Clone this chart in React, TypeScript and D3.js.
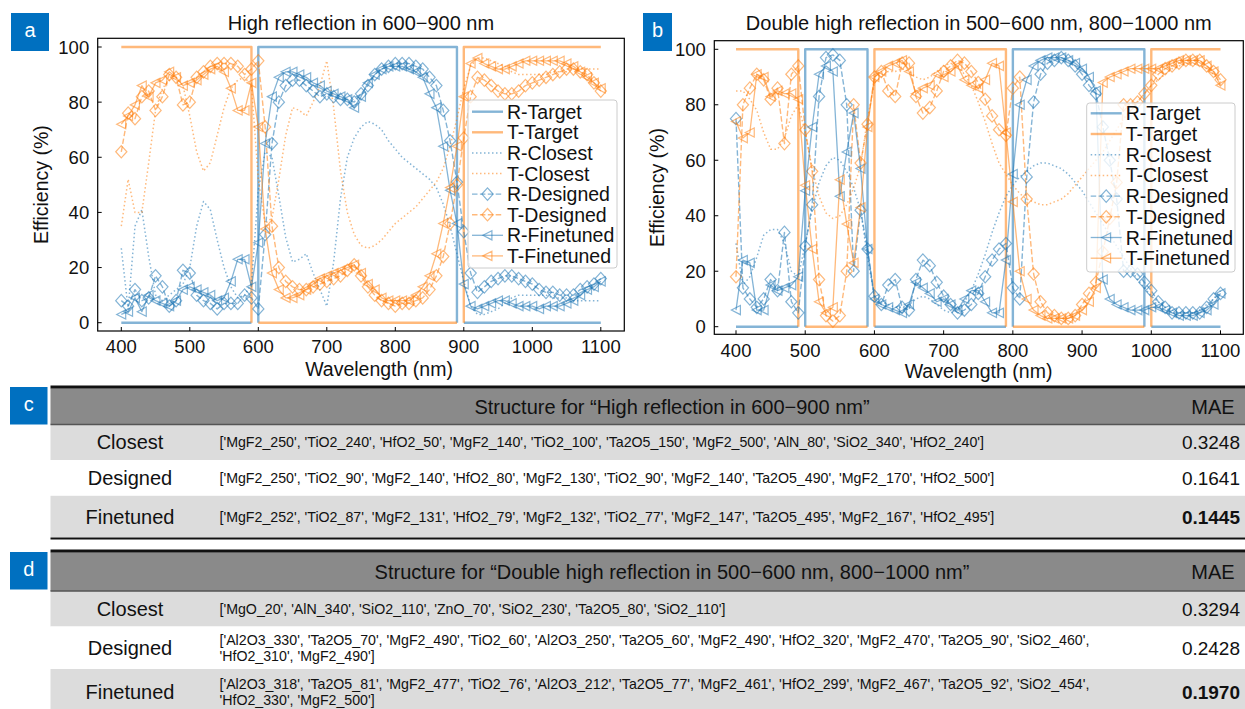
import React from 'react';
import * as d3 from 'd3';

// ---------- DATA ----------
const WAVELENGTHS = [
  400, 410, 420, 430, 440, 450, 460, 470, 480, 490,
  500, 510, 520, 530, 540, 550, 560, 570, 580, 590,
  600, 610, 620, 630, 640, 650, 660, 670, 680, 690,
  700, 710, 720, 730, 740, 750, 760, 770, 780, 790,
  800, 810, 820, 830, 840, 850, 860, 870, 880, 890,
  900, 910, 920, 930, 940, 950, 960, 970, 980, 990,
  1000, 1010, 1020, 1030, 1040, 1050, 1060, 1070, 1080, 1090,
  1100,
];
const X_TICKS = [400, 500, 600, 700, 800, 900, 1000, 1100];
const Y_TICKS = [0, 20, 40, 60, 80, 100];

// Panel a : High reflection in 600-900 nm
const A_R_TARGET_X = [400, 590, null, 600, 600, 890, 890, null, 900, 1100];
const A_R_TARGET_Y = [0, 0, null, 0, 100, 100, 0, null, 0, 0];
const A_T_TARGET_X = [400, 590, 590, null, 600, 890, null, 900, 900, 1100];
const A_T_TARGET_Y = [100, 100, 0, null, 0, 0, null, 0, 100, 100];
const A_R_CLOSEST = [
  27, 5, 35, 41, 24, 10, 8, 10, 12, 14,
  20, 35, 44, 41, 30, 20, 13, 9, 10, 14,
  48, 62, 60, 46, 31, 22, 23, 25, 18, 12,
  6, 22, 45, 60, 67, 71, 73, 72, 70, 66,
  63, 60, 58, 56, 54, 52, 49, 43, 35, 25,
  15, 6, 3, 3, 4, 5, 7, 9, 10, 10,
  10, 10, 10, 9, 9, 9, 8, 8, 8, 8,
  8,
];
const A_T_CLOSEST = [
  35, 52, 40, 40, 58, 77, 85, 88, 89, 86,
  75, 62, 55, 58, 68, 78, 85, 88, 89, 86,
  52, 36, 38, 52, 68, 78, 77, 75, 80, 86,
  95, 78, 55, 40, 32, 28, 27, 28, 30, 33,
  36, 38, 40, 42, 45, 48, 51, 56, 64, 74,
  85, 93, 96, 96, 95, 94, 93, 91, 90, 90,
  90, 90, 90, 91, 91, 91, 92, 92, 92, 92,
  92,
];
const A_R_DESIGNED = [
  8, 6, 12, 8, 9, 17, 13, 6, 8, 19,
  18, 10, 8, 7, 5, 7, 7, 7, 10, 9,
  5, 32, 65, 80, 86, 88, 88, 86, 84, 82,
  83, 82, 81, 81, 80, 83, 86, 90, 92, 93,
  94, 94, 94, 93, 92, 89, 86, 77, 66, 51,
  33, 18, 11, 13, 15, 16, 17, 17, 16, 15,
  14, 12, 11, 11, 10, 10, 10, 12, 13, 14,
  16,
];
const A_T_DESIGNED = [
  62, 76, 74, 82, 84, 77, 82, 90, 89, 79,
  80, 89, 91, 93, 94, 94, 94, 93, 90, 92,
  95, 71, 35, 20, 15, 13, 12, 12, 13, 14,
  15, 16, 17, 19, 21, 17, 13, 10, 8, 7,
  6, 7, 7, 8, 9, 12, 17, 24, 36, 50,
  67, 82, 89, 88, 86, 84, 83, 83, 84, 86,
  87, 88, 89, 90, 91, 92, 92, 91, 90, 87,
  84,
];
const A_R_FINETUNED = [
  3, 4, 9, 4, 10, 8, 7, 6, 8, 12,
  13, 12, 11, 10, 8, 9, 15, 23, 23, 13,
  29, 65, 82, 89, 91, 91, 90, 89, 87, 86,
  84, 83, 82, 81, 78, 82, 87, 90, 92, 93,
  93, 93, 92, 91, 89, 83, 78, 64, 48, 36,
  14, 6, 5, 6, 7, 8, 8, 7, 6, 6,
  6, 5, 6, 6, 6, 7, 8, 10, 12, 13,
  15,
];
const A_T_FINETUNED = [
  72, 75, 79, 86, 82, 87, 88, 91, 89, 86,
  87, 88, 90, 92, 93, 91, 85, 77, 77, 87,
  71, 34, 18, 12, 9, 9, 10, 12, 14, 16,
  17, 18, 19, 20, 21, 18, 14, 12, 9, 8,
  8, 8, 8, 10, 13, 17, 25, 36, 49, 64,
  82, 94, 96, 94, 93, 92, 92, 93, 94, 95,
  95, 95, 95, 95, 95, 94, 93, 91, 89, 87,
  85,
];

// Panel b : Double high reflection in 500-600 nm, 800-1000 nm
const B_R_TARGET_X = [400, 490, null, 500, 500, 590, 590, null, 600, 790, null, 800, 800, 990, 990, null, 1000, 1100];
const B_R_TARGET_Y = [0, 0, null, 0, 100, 100, 0, null, 0, 0, null, 0, 100, 100, 0, null, 0, 0];
const B_T_TARGET_X = [400, 490, 490, null, 500, 590, null, 600, 600, 790, 790, null, 800, 990, null, 1000, 1000, 1100];
const B_T_TARGET_Y = [100, 100, 0, null, 0, 0, null, 0, 100, 100, 0, null, 0, 0, null, 0, 100, 100];
const B_R_CLOSEST = [
  30, 15, 18, 25, 33, 35, 35, 30, 20, 18,
  30, 42, 52, 58, 61, 60, 56, 50, 42, 25,
  11, 9, 8, 7, 7, 8, 10, 11, 10, 8,
  6, 5, 6, 9, 13, 19, 26, 34, 41, 47,
  51, 54, 56, 58, 59, 59, 58, 57, 55, 52,
  49, 45, 41, 37, 33, 29, 25, 21, 17, 14,
  11, 9, 7, 6, 5, 5, 5, 6, 8, 10,
  13,
];
const B_T_CLOSEST = [
  85, 85, 82, 78, 70, 64, 64, 68, 76, 80,
  70, 57, 47, 41, 39, 40, 44, 50, 58, 75,
  88, 90, 92, 92, 93, 92, 90, 89, 90, 92,
  94, 95, 94, 91, 87, 81, 74, 66, 59, 55,
  51, 48, 46, 45, 44, 44, 45, 46, 48, 51,
  54, 57, 60, 63, 67, 71, 75, 78, 81, 84,
  87, 89, 91, 93, 94, 95, 95, 94, 93, 91,
  88,
];
const B_R_DESIGNED = [
  75, 14, 10, 7, 10, 17, 13, 34, 9, 5,
  29, 44, 83, 97, 98, 96, 80, 20, 42, 28,
  11, 8, 15, 17, 7, 6, 17, 24, 22, 16,
  11, 8, 5, 6, 8, 12, 18, 24, 28, 30,
  14, 10, 54, 81, 91, 95, 96, 97, 96, 94,
  91, 87, 84, 72, 60, 46, 20, 20, 19, 16,
  13, 9, 7, 5, 5, 5, 5, 5, 7, 10,
  12,
];
const B_T_DESIGNED = [
  18, 80, 86, 91, 89, 82, 86, 66, 91, 94,
  71, 56, 17, 4, 2, 4, 20, 80, 59, 73,
  90, 92, 85, 83, 95, 95, 83, 77, 79, 85,
  92, 94, 96, 95, 92, 88, 82, 76, 71, 69,
  86, 90, 46, 19, 9, 5, 4, 3, 3, 4,
  8, 12, 16, 27, 39, 52, 80, 80, 81, 84,
  87, 91, 93, 94, 95, 96, 96, 96, 94, 92,
  89,
];
const B_R_FINETUNED = [
  6, 24, 23, 6, 6, 15, 13, 14, 15, 18,
  49, 72, 91, 94, 92, 47, 63, 77, 57, 28,
  10, 8, 7, 6, 5, 8, 16, 14, 12, 9,
  10, 8, 6, 10, 13, 13, 9, 5, 5, 24,
  55, 80, 89, 94, 96, 97, 97, 97, 96, 95,
  93, 90, 85, 17, 10, 8, 7, 6, 6, 6,
  7, 7, 6, 5, 4, 4, 4, 5, 6, 8,
  12,
];
const B_T_FINETUNED = [
  74, 68, 70, 91, 90, 83, 85, 84, 84, 82,
  51, 28, 9, 5, 7, 53, 37, 23, 43, 72,
  90, 92, 94, 95, 96, 92, 84, 86, 87, 91,
  90, 92, 94, 89, 87, 86, 89, 95, 94, 70,
  45, 20, 10, 6, 4, 3, 3, 3, 3, 4,
  6, 9, 14, 88, 90, 91, 92, 93, 93, 93,
  93, 93, 94, 95, 96, 96, 96, 96, 94, 92,
  87,
];

const SERIES_NAMES = ['R-Target', 'T-Target', 'R-Closest', 'T-Closest', 'R-Designed', 'T-Designed', 'R-Finetuned', 'T-Finetuned'];
const TITLE_A = 'High reflection in 600\u2212900 nm';
const TITLE_B = 'Double high reflection in 500\u2212600 nm, 800\u22121000 nm';
const X_LABEL = 'Wavelength (nm)';
const Y_LABEL = 'Efficiency (%)';

// Tables
const ROW_NAMES = ['Closest', 'Designed', 'Finetuned'];
const TABLE_C_TITLE = 'Structure for \u201cHigh reflection in 600\u2212900 nm\u201d';
const TABLE_C_STRUCTS = [
  ["['MgF2_250', 'TiO2_240', 'HfO2_50', 'MgF2_140', 'TiO2_100', 'Ta2O5_150', 'MgF2_500', 'AlN_80', 'SiO2_340', 'HfO2_240']"],
  ["['MgF2_250', 'TiO2_90', 'MgF2_140', 'HfO2_80', 'MgF2_130', 'TiO2_90', 'MgF2_140', 'Ta2O5_490', 'MgF2_170', 'HfO2_500']"],
  ["['MgF2_252', 'TiO2_87', 'MgF2_131', 'HfO2_79', 'MgF2_132', 'TiO2_77', 'MgF2_147', 'Ta2O5_495', 'MgF2_167', 'HfO2_495']"],
];
const TABLE_C_MAE = ['0.3248', '0.1641', '0.1445'];
const TABLE_D_TITLE = 'Structure for \u201cDouble high reflection in 500\u2212600 nm, 800\u22121000 nm\u201d';
const TABLE_D_STRUCTS = [
  ["['MgO_20', 'AlN_340', 'SiO2_110', 'ZnO_70', 'SiO2_230', 'Ta2O5_80', 'SiO2_110']"],
  ["['Al2O3_330', 'Ta2O5_70', 'MgF2_490', 'TiO2_60', 'Al2O3_250', 'Ta2O5_60', 'MgF2_490', 'HfO2_320', 'MgF2_470', 'Ta2O5_90', 'SiO2_460',",
   "'HfO2_310', 'MgF2_490']"],
  ["['Al2O3_318', 'Ta2O5_81', 'MgF2_477', 'TiO2_76', 'Al2O3_212', 'Ta2O5_77', 'MgF2_461', 'HfO2_299', 'MgF2_467', 'Ta2O5_92', 'SiO2_454',",
   "'HfO2_330', 'MgF2_500']"],
];
const TABLE_D_MAE = ['0.3294', '0.2428', '0.1970'];
const MAE_HEADER = 'MAE';

// ---------- STYLE / LAYOUT ----------
const FONT = '"Liberation Sans", Arial, Helvetica, sans-serif';
const BLUE = '#1f77b4';
const ORANGE = '#ff7f0e';
const LABEL_BLUE = '#0070c0';
const ALPHA = 0.55;

type Style = { color: string; width: number; dash: string | null; marker: 'diamond' | 'tri' | null };
const STYLES: Style[] = [
  { color: BLUE, width: 2.4, dash: null, marker: null },
  { color: ORANGE, width: 2.4, dash: null, marker: null },
  { color: BLUE, width: 1.5, dash: '1.5,2.5', marker: null },
  { color: ORANGE, width: 1.5, dash: '1.5,2.5', marker: null },
  { color: BLUE, width: 1.4, dash: '5.5,2.4', marker: 'diamond' },
  { color: ORANGE, width: 1.4, dash: '5.5,2.4', marker: 'diamond' },
  { color: BLUE, width: 1.3, dash: null, marker: 'tri' },
  { color: ORANGE, width: 1.3, dash: null, marker: 'tri' },
];

type Pt = [number, number] | null;

function pairs(xs: (number | null)[], ys: (number | null)[]): Pt[] {
  return xs.map((xv, i) => (xv === null || ys[i] === null ? null : [xv, ys[i] as number]));
}
function grid(vals: number[]): Pt[] {
  return vals.map((v, i) => [WAVELENGTHS[i], v]);
}

const PANEL_A = {
  spine: { l: 97.7, r: 624.3, t: 38.3, b: 331 },
  xr: [121.3, 600.8], yr: [322.7, 47],
  title: TITLE_A, titleY: 30,
  tickOffset: 22.3,
  xLabelX: 379, xLabelY: 375.5,
  yLabelX: 48,
  legend: { x: 468, y: 100, w: 149, h: 168, first: 111.7, step: 20.6 },
  series: [
    pairs(A_R_TARGET_X, A_R_TARGET_Y), pairs(A_T_TARGET_X, A_T_TARGET_Y),
    grid(A_R_CLOSEST), grid(A_T_CLOSEST), grid(A_R_DESIGNED), grid(A_T_DESIGNED),
    grid(A_R_FINETUNED), grid(A_T_FINETUNED),
  ],
  tag: 'a', tagBox: { x: 11, y: 13, w: 38, h: 38 },
};
const PANEL_B = {
  spine: { l: 714.3, r: 1243.3, t: 40.7, b: 334.3 },
  xr: [736, 1220.5], yr: [326.7, 49.3],
  title: TITLE_B, titleY: 30,
  tickOffset: 22.5,
  xLabelX: 978.5, xLabelY: 378,
  yLabelX: 663.5,
  legend: { x: 1086.7, y: 103, w: 148.3, h: 169, first: 113.3, step: 20.7 },
  series: [
    pairs(B_R_TARGET_X, B_R_TARGET_Y), pairs(B_T_TARGET_X, B_T_TARGET_Y),
    grid(B_R_CLOSEST), grid(B_T_CLOSEST), grid(B_R_DESIGNED), grid(B_T_DESIGNED),
    grid(B_R_FINETUNED), grid(B_T_FINETUNED),
  ],
  tag: 'b', tagBox: { x: 643, y: 13, w: 29, h: 38 },
};

function markerPath(kind: 'diamond' | 'tri') {
  if (kind === 'diamond') return 'M0,-6.2L5.6,0L0,6.2L-5.6,0Z';
  return 'M-4.6,0L4.4,-4.6L4.4,4.6Z';
}

function Marker({ kind, x, y, color }: { kind: 'diamond' | 'tri'; x: number; y: number; color: string }) {
  return (
    <path d={markerPath(kind)} transform={`translate(${x},${y})`} fill="none"
      stroke={color} strokeOpacity={ALPHA} strokeWidth={1.2} />
  );
}

function Panel({ cfg }: { cfg: typeof PANEL_A }) {
  const x = d3.scaleLinear().domain([400, 1100]).range(cfg.xr);
  const y = d3.scaleLinear().domain([0, 100]).range(cfg.yr);
  const line = d3.line<Pt>().defined((d) => d !== null).x((d) => x((d as [number, number])[0])).y((d) => y((d as [number, number])[1]));
  const s = cfg.spine;
  const lg = cfg.legend;
  return (
    <g>
      <rect x={cfg.tagBox.x} y={cfg.tagBox.y} width={cfg.tagBox.w} height={cfg.tagBox.h} fill={LABEL_BLUE} />
      <text x={cfg.tagBox.x + cfg.tagBox.w / 2} y={cfg.tagBox.y + 24} fill="#fff" fontSize={20} textAnchor="middle">{cfg.tag}</text>
      <text x={(s.l + s.r) / 2} y={cfg.titleY} fontSize={20} textAnchor="middle" fill="#111">{cfg.title}</text>
      {cfg.series.map((pts, i) => {
        const st = STYLES[i];
        return (
          <g key={i}>
            <path d={line(pts) || ''} fill="none" stroke={st.color} strokeOpacity={ALPHA}
              strokeWidth={st.width} strokeDasharray={st.dash || undefined} strokeLinejoin="round" />
            {st.marker && pts.map((p, j) => p && (
              <Marker key={j} kind={st.marker as 'diamond' | 'tri'} x={x(p[0])} y={y(p[1])} color={st.color} />
            ))}
          </g>
        );
      })}
      {/* spines */}
      <rect x={s.l} y={s.t} width={s.r - s.l} height={s.b - s.t} fill="none" stroke="#000" strokeWidth={1.2} />
      {X_TICKS.map((t) => (
        <g key={'x' + t}>
          <line x1={x(t)} x2={x(t)} y1={s.b} y2={s.b - 4} stroke="#000" strokeWidth={1} />
          <text x={x(t)} y={s.b + cfg.tickOffset} fontSize={18.5} textAnchor="middle" fill="#111">{t}</text>
        </g>
      ))}
      {Y_TICKS.map((t) => (
        <g key={'y' + t}>
          <line x1={s.l} x2={s.l + 4} y1={y(t)} y2={y(t)} stroke="#000" strokeWidth={1} />
          <text x={s.l - 8.5} y={y(t) + 6.6} fontSize={18.5} textAnchor="end" fill="#111">{t}</text>
        </g>
      ))}
      <text x={cfg.xLabelX} y={cfg.xLabelY} fontSize={19.5} textAnchor="middle" fill="#111">{X_LABEL}</text>
      <text transform={`translate(${cfg.yLabelX},${(s.t + s.b) / 2}) rotate(-90)`} fontSize={19.5} textAnchor="middle" fill="#111">{Y_LABEL}</text>
      {/* legend */}
      <rect x={lg.x} y={lg.y} width={lg.w} height={lg.h} rx={3} fill="#fff" fillOpacity={0.8} stroke="#cccccc" strokeWidth={1} />
      {SERIES_NAMES.map((name, i) => {
        const st = STYLES[i];
        const cy = lg.first + i * lg.step;
        const x0 = lg.x + 4;
        const x1 = lg.x + 35;
        return (
          <g key={name}>
            <line x1={x0} x2={x1} y1={cy} y2={cy} stroke={st.color} strokeOpacity={ALPHA}
              strokeWidth={st.width} strokeDasharray={st.dash || undefined} />
            {st.marker && <Marker kind={st.marker} x={(x0 + x1) / 2} y={cy} color={st.color} />}
            <text x={lg.x + 39} y={cy + 7} fontSize={19.5} fill="#111">{name}</text>
          </g>
        );
      })}
    </g>
  );
}

type TableCfg = {
  tag: string; tagBox: { x: number; y: number; w: number; h: number };
  topLine: number; headerTop: number; headerBottom: number; rows: number[]; bottomLine: number | null;
  title: string; structs: string[][]; mae: string[];
};

const TABLE_C: TableCfg = {
  tag: 'c', tagBox: { x: 10, y: 387, w: 37.5, h: 37.5 },
  topLine: 387, headerTop: 388.3, headerBottom: 424.5, rows: [424.5, 460, 495.8, 537.5], bottomLine: 538.5,
  title: TABLE_C_TITLE, structs: TABLE_C_STRUCTS, mae: TABLE_C_MAE,
};
const TABLE_D: TableCfg = {
  tag: 'd', tagBox: { x: 10, y: 552, w: 37.5, h: 37.5 },
  topLine: 551, headerTop: 552.3, headerBottom: 591, rows: [591, 626.5, 669, 716], bottomLine: null,
  title: TABLE_D_TITLE, structs: TABLE_D_STRUCTS, mae: TABLE_D_MAE,
};

const T_LEFT = 50.5;
const T_RIGHT = 1245;
const LABEL_CX = 130;
const STRUCT_X = 219.5;
const MAE_RIGHT = 1240;
const MAE_HEAD_CX = 1213;
const TITLE_CX = 672;

function Table({ cfg }: { cfg: TableCfg }) {
  const rowFill = ['#dcdcdc', '#ffffff', '#dcdcdc'];
  const hc = (cfg.headerTop + cfg.headerBottom) / 2;
  return (
    <g>
      <rect x={cfg.tagBox.x} y={cfg.tagBox.y} width={cfg.tagBox.w} height={cfg.tagBox.h} fill={LABEL_BLUE} />
      <text x={cfg.tagBox.x + cfg.tagBox.w / 2} y={cfg.tagBox.y + 24} fill="#fff" fontSize={20} textAnchor="middle">{cfg.tag}</text>
      <rect x={T_LEFT} y={cfg.headerTop} width={T_RIGHT - T_LEFT} height={cfg.headerBottom - cfg.headerTop} fill="#8a8a8a" />
      {ROW_NAMES.map((n, i) => (
        <rect key={n} x={T_LEFT} y={cfg.rows[i]} width={T_RIGHT - T_LEFT} height={cfg.rows[i + 1] - cfg.rows[i]} fill={rowFill[i]} />
      ))}
      <line x1={T_LEFT} x2={T_RIGHT} y1={cfg.topLine} y2={cfg.topLine} stroke="#111" strokeWidth={3} />
      <line x1={T_LEFT} x2={T_RIGHT} y1={cfg.headerBottom} y2={cfg.headerBottom} stroke="#555" strokeWidth={1.5} />
      {cfg.bottomLine !== null && (
        <line x1={T_LEFT} x2={T_RIGHT} y1={cfg.bottomLine} y2={cfg.bottomLine} stroke="#111" strokeWidth={2} />
      )}
      <text x={TITLE_CX} y={hc + 7.2} fontSize={20} textAnchor="middle" fill="#111">{cfg.title}</text>
      <text x={MAE_HEAD_CX} y={hc + 7.2} fontSize={20} textAnchor="middle" fill="#111">{MAE_HEADER}</text>
      {ROW_NAMES.map((n, i) => {
        const cy = (cfg.rows[i] + Math.min(cfg.rows[i + 1], 715)) / 2;
        const lines = cfg.structs[i];
        const lh = 15.5;
        return (
          <g key={n}>
            <text x={LABEL_CX} y={cy + 7.2} fontSize={20} textAnchor="middle" fill="#111">{n}</text>
            {lines.map((l, k) => (
              <text key={k} x={STRUCT_X} y={cy + 5 + (k - (lines.length - 1) / 2) * lh} fontSize={14.2} fill="#111">{l}</text>
            ))}
            <text x={MAE_RIGHT} y={cy + 7} fontSize={19} textAnchor="end" fill="#111"
              fontWeight={i === 2 ? 'bold' : 'normal'}>{cfg.mae[i]}</text>
          </g>
        );
      })}
    </g>
  );
}

export default function App() {
  return (
    <svg width={1245} height={709} viewBox="0 0 1245 709"
      style={{ position: 'absolute', left: 0, top: 0, background: '#fff', fontFamily: FONT }}>
      <rect x={0} y={0} width={1245} height={709} fill="#fff" />
      <Panel cfg={PANEL_A} />
      <Panel cfg={PANEL_B} />
      <Table cfg={TABLE_C} />
      <Table cfg={TABLE_D} />
    </svg>
  );
}
